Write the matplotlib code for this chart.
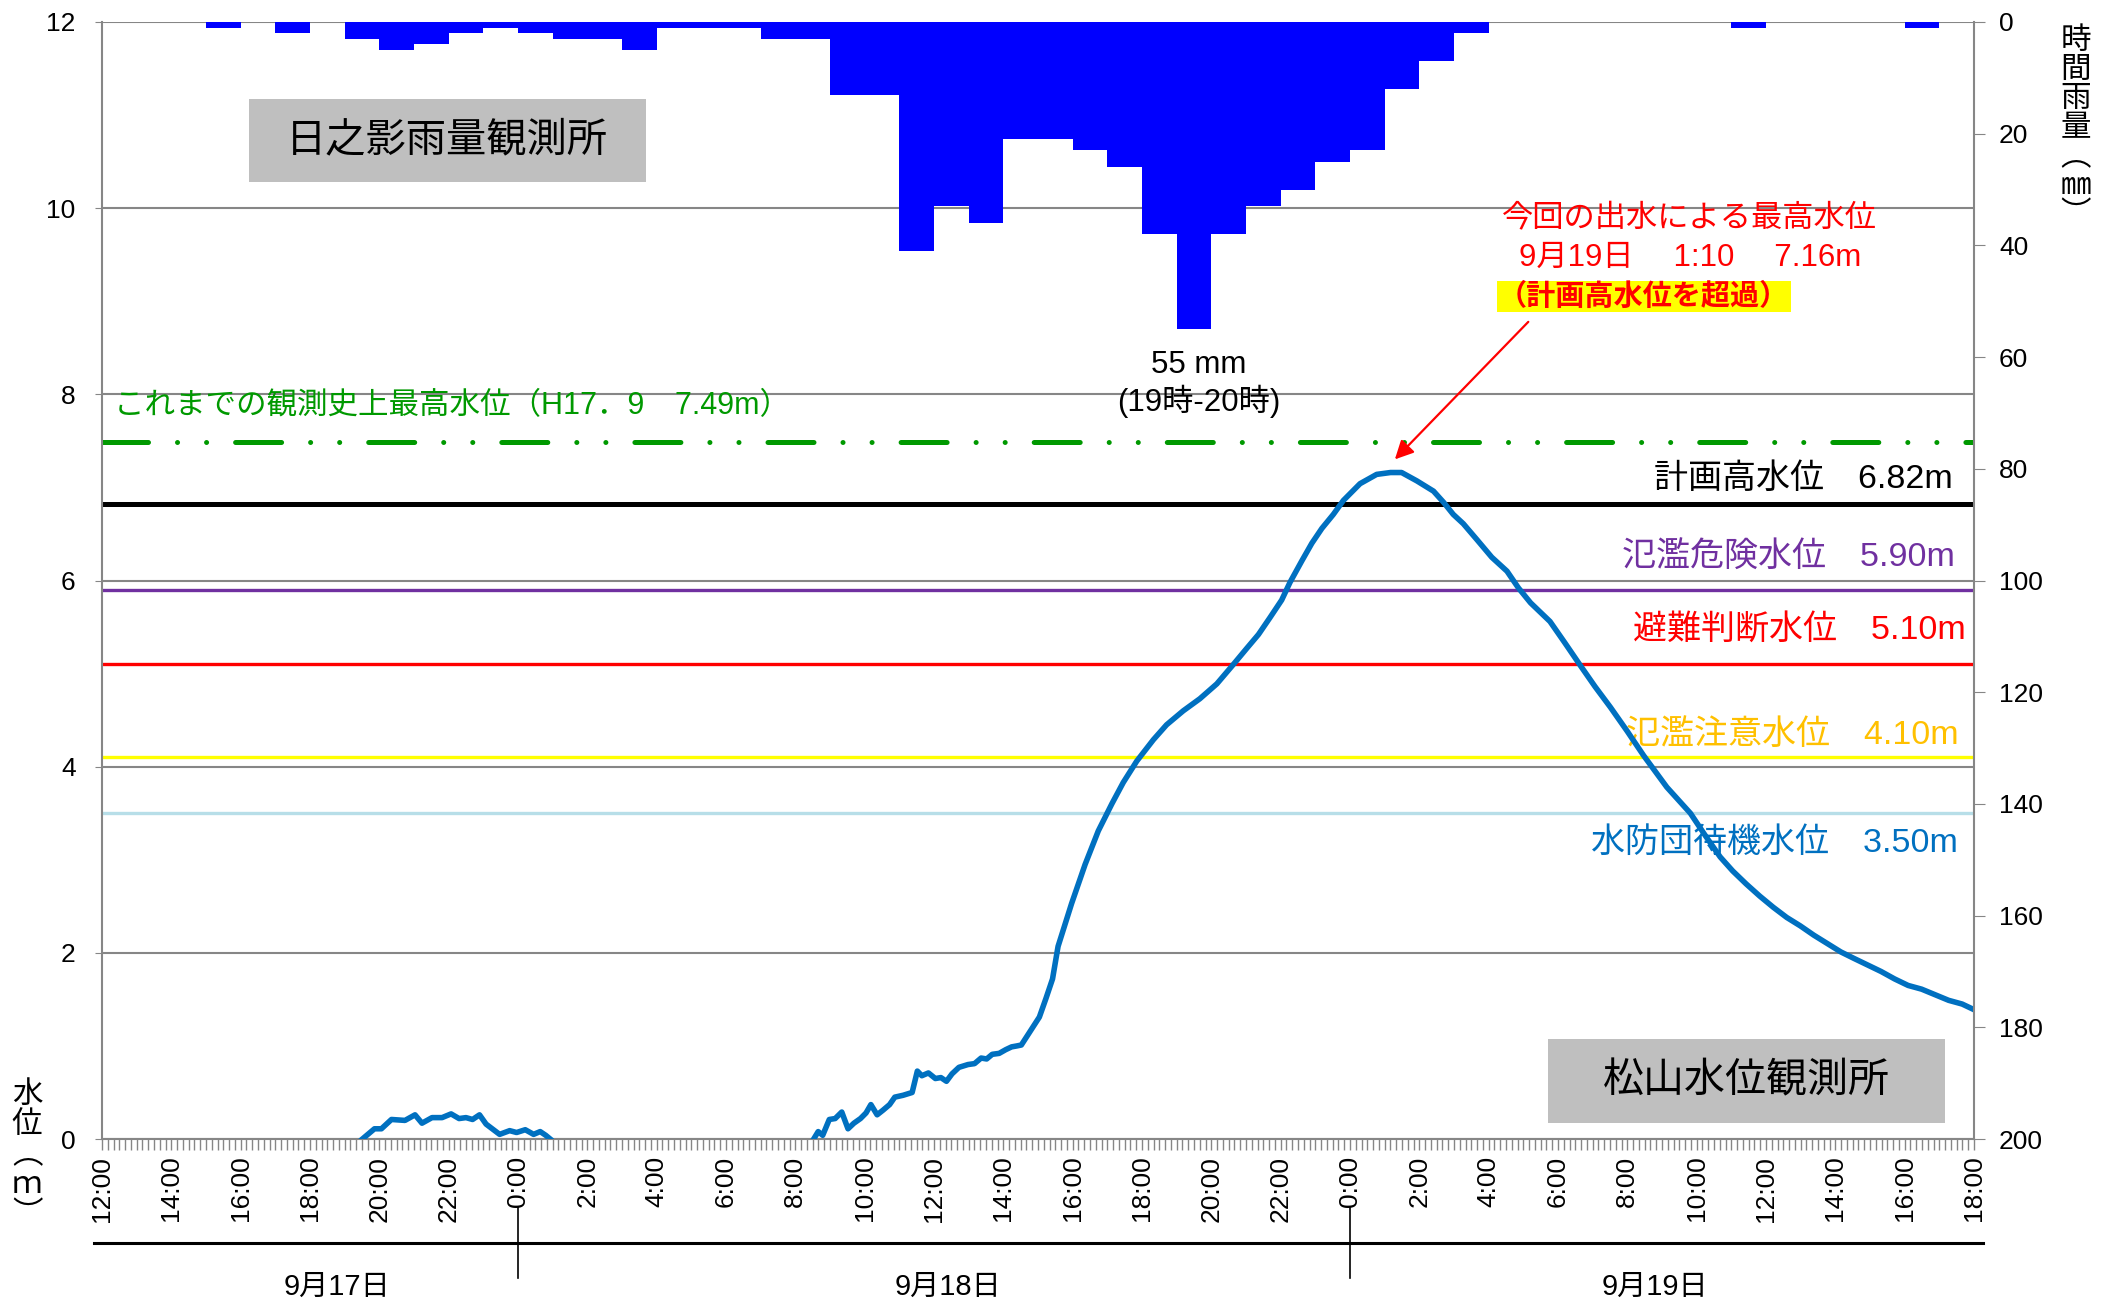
import numpy as np
import matplotlib
matplotlib.use('Agg')
import matplotlib.pyplot as plt
from matplotlib.patches import Rectangle
from matplotlib.ticker import MultipleLocator, FuncFormatter

plt.rcParams['font.family'] = ['Liberation Sans', 'Noto Sans CJK JP']

# hours counted from 9/17 12:00
rain_hours = np.arange(54)
rain_mm = [0, 0, 0, 1, 0, 2, 0, 3, 5, 4, 2, 1,
           2, 3, 3, 5, 1, 1, 1, 3, 3, 13, 13, 41, 33, 36, 21, 21, 23, 26, 38, 55, 38, 33, 30, 25,
           23, 12, 7, 2, 0, 0, 0, 0, 0, 0, 0, 1, 0, 0, 0, 0, 1, 0]

level_hours = [7.51, 7.86, 8.06, 8.35, 8.74, 9.03, 9.23, 9.52, 9.81, 10.07, 10.30, 10.50,
               10.69, 10.89, 11.08, 11.47, 11.76, 11.96, 12.21, 12.45, 12.64, 12.80, 12.93,
               13.0,
               20.53, 20.66, 20.79, 20.98, 21.15, 21.34, 21.52, 21.69, 21.88, 22.04, 22.18,
               22.36, 22.53, 22.72, 22.87, 23.11, 23.37, 23.52, 23.65, 23.84, 24.04, 24.20,
               24.36, 24.52, 24.72, 24.98, 25.17, 25.36, 25.52, 25.68, 25.88, 26.07, 26.24,
               26.39, 26.52, 26.78, 27.04, 27.23, 27.42, 27.58, 27.97, 28.36, 28.74, 29.13,
               29.46, 29.85, 30.33, 30.71, 31.19, 31.67, 32.16, 32.64, 33.02, 33.36, 33.69,
               34.03, 34.27, 34.61, 34.90, 35.19, 35.52, 35.81, 36.29, 36.77, 37.17, 37.49,
               37.93, 38.41, 38.70, 38.98, 39.27, 39.66, 40.09, 40.53, 40.86, 41.21, 41.77,
               42.20, 42.64, 43.07, 43.51, 44.00, 44.47, 45.14, 45.82, 46.25, 46.68, 47.04,
               47.43, 47.82, 48.21, 48.60, 48.99, 49.38, 49.77, 50.16, 50.54, 50.93, 51.32,
               51.71, 52.10, 52.49, 52.88, 53.27, 53.66, 54.0]
level_m = [0.0, 0.11, 0.11, 0.21, 0.20, 0.26, 0.17, 0.23, 0.23, 0.27, 0.22, 0.23,
           0.21, 0.26, 0.16, 0.05, 0.09, 0.07, 0.10, 0.05, 0.08, 0.04, 0.0,
           np.nan,
           0.0, 0.08, 0.04, 0.21, 0.22, 0.29, 0.11, 0.17, 0.22, 0.28, 0.37,
           0.26, 0.31, 0.37, 0.45, 0.47, 0.50, 0.73, 0.68, 0.71, 0.65, 0.66,
           0.62, 0.70, 0.77, 0.80, 0.81, 0.87, 0.86, 0.91, 0.92, 0.96, 0.99,
           1.00, 1.01, 1.16, 1.31, 1.51, 1.72, 2.07, 2.53, 2.95, 3.31, 3.60,
           3.83, 4.06, 4.29, 4.45, 4.60, 4.73, 4.89, 5.10, 5.27, 5.42, 5.60,
           5.79, 5.98, 6.21, 6.40, 6.56, 6.71, 6.86, 7.04, 7.14, 7.16, 7.16,
           7.07, 6.96, 6.84, 6.71, 6.61, 6.44, 6.25, 6.10, 5.92, 5.76, 5.56,
           5.33, 5.09, 4.86, 4.64, 4.38, 4.12, 3.78, 3.50, 3.26, 3.03, 2.88,
           2.74, 2.61, 2.49, 2.38, 2.29, 2.19, 2.10, 2.01, 1.94, 1.87, 1.80,
           1.72, 1.65, 1.61, 1.55, 1.49, 1.45, 1.39]

record_level = 7.49
thresholds = [6.82, 5.90, 5.10, 4.10, 3.50]
threshold_names = ['計画高水位', '氾濫危険水位', '避難判断水位', '氾濫注意水位', '水防団待機水位']
threshold_colors = ['black', '#7030A0', '#FF0000', '#FFFF00', '#B7DEE8']
label_colors = ['black', '#7030A0', '#FF0000', '#FFC000', '#0070C0']
dates = ['9月17日', '9月18日', '9月19日']

fig = plt.figure(figsize=(21.14, 13.01), dpi=100)
ax = fig.add_axes([0.04825, 0.1245, 0.8855, 0.8586])
ax2 = ax.twinx()

gray = '#868686'
ax.set_xlim(0, 54)
ax.set_ylim(0, 12)
ax.yaxis.set_major_locator(MultipleLocator(2))
ax.yaxis.grid(True, color=gray, lw=1.5)
ax.set_axisbelow(True)
ax.xaxis.set_major_locator(MultipleLocator(2))
ax.xaxis.set_minor_locator(MultipleLocator(1 / 6))
ax.xaxis.set_major_formatter(FuncFormatter(lambda v, p: '%d:00' % ((12 + int(round(v))) % 24)))
ax.tick_params(axis='x', which='both', length=8, color=gray, width=1, labelsize=19,
               labelrotation=90, pad=4)
ax.tick_params(axis='y', length=5, color=gray, labelsize=19, pad=14)
for s in ['top', 'right']:
    ax.spines[s].set_visible(False)
for s in ['left', 'bottom']:
    ax.spines[s].set_color(gray)
    ax.spines[s].set_linewidth(1.5)

# rain bars
ax2.bar(rain_hours, rain_mm, width=1, align='edge', color='#0000FF', zorder=3)
ax2.set_ylim(200, 0)
ax2.yaxis.set_major_locator(MultipleLocator(20))
ax2.tick_params(axis='y', length=8, color=gray, labelsize=19, pad=10)
for s in ['top', 'left', 'bottom']:
    ax2.spines[s].set_visible(False)
ax2.spines['right'].set_color(gray)
ax2.spines['right'].set_linewidth(1.5)

# thresholds
ax.axhline(record_level, color='#009900', lw=3.6, dash_capstyle='round',
           linestyle=(0, (9.2, 5.8, 0.01, 5.8, 0.01, 5.8)))
widths = [3.6, 2.4, 2.4, 2.4, 2.4]
for v, c, w in zip(thresholds, threshold_colors, widths):
    ax.axhline(v, color=c, lw=w)

label_x = [53.38, 53.45, 53.75, 53.55, 53.55]
label_y = [7.09, 6.24, 5.47, 4.34, 3.18]
for n, v, c, lx, ly in zip(threshold_names, thresholds, label_colors, label_x, label_y):
    ax.text(lx, ly, '%s\u3000%.2fm' % (n, v), color=c, fontsize=24.5, ha='right', va='center')

ax.text(0.35, 7.87, 'これまでの観測史上最高水位（H17．9\u30007.49m）', color='#009900',
        fontsize=22, ha='left', va='center')

# water level
ax.plot(level_hours, level_m, color='#0070C0', lw=4, zorder=4)

# annotations
ax.text(45.8, 9.89, '今回の出水による最高水位', color='red', fontsize=22.5, ha='center', va='center')
ax.text(45.8, 9.47, '9月19日\u3000 1:10\u3000 7.16m', color='red', fontsize=22.5, ha='center', va='center')
ax.text(44.47, 9.05, '（計画高水位を超過）', color='red', fontsize=21, fontweight='bold',
        ha='center', va='center',
        bbox=dict(boxstyle='square,pad=0.05', fc='#FFFF00', ec='none'))
ax.annotate('', xy=(37.24, 7.28), xytext=(41.2, 8.80),
            arrowprops=dict(arrowstyle='-|>', color='red', lw=1.6, mutation_scale=28))
ax.text(31.63, 8.32, '55 mm', fontsize=22.5, ha='center', va='center')
ax.text(31.63, 7.92, '(19時-20時)', fontsize=22.5, ha='center', va='center')

# station boxes
ax2.add_patch(Rectangle((0.0783, 0.8564), 0.2123, 0.0751, transform=ax.transAxes,
                        fc='#BFBFBF', ec='none', zorder=5))
ax2.text(0.1845, 0.894, '日之影雨量観測所', transform=ax.transAxes, fontsize=29,
         ha='center', va='center', zorder=6)
ax2.add_patch(Rectangle((0.7723, 0.0143), 0.2122, 0.0752, transform=ax.transAxes,
                        fc='#BFBFBF', ec='none', zorder=5))
ax2.text(0.8784, 0.052, '松山水位観測所', transform=ax.transAxes, fontsize=29.5,
         ha='center', va='center', zorder=6)

# date row
tr = ax.get_xaxis_transform()
ax.plot([-0.23, 54.25], [-0.0931, -0.0931], color='black', lw=2.2, transform=tr, clip_on=False)
for h in [12, 36]:
    ax.plot([h, h], [-0.0609, -0.1244], color='black', lw=1.2, transform=tr, clip_on=False)
for h, d in zip([6.77, 24.4, 44.8], dates):
    ax.text(h, -0.1325, d, transform=tr, fontsize=21, ha='center', va='center')

# axis titles
fig.text(0.0128, 0.112, '水\n位\n︵\nｍ\n︶', fontsize=22, ha='center', va='center', linespacing=1.0)
fig.text(0.982, 0.9016, '時\n間\n雨\n量\n︵\n㎜\n︶', fontsize=22, ha='center', va='center',
         linespacing=0.95)

fig.savefig('out.png', dpi=100)
